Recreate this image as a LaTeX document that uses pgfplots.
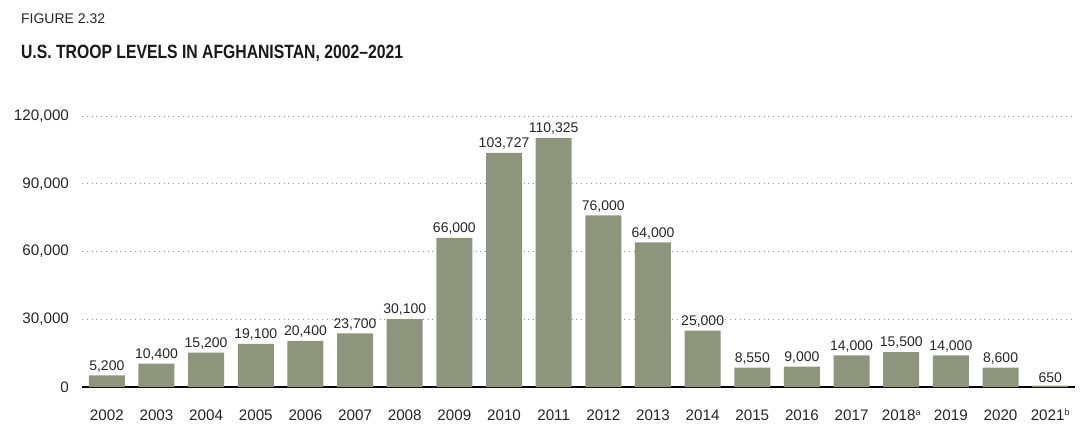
\documentclass[border=0pt]{standalone}
\usepackage{fontspec}
\setmainfont{Liberation Sans}
\newfontfamily\titlefont[FakeStretch=0.82]{Liberation Sans}
\usepackage{pgfplots}
\pgfplotsset{compat=1.18}
\definecolor{barcol}{RGB}{141,150,124}
\definecolor{gridcol}{RGB}{140,140,140}

\begin{document}
\begin{tikzpicture}
\path[use as bounding box] (-41pt,-24.5pt) rectangle (499pt,193.5pt);
\begin{axis}[
  at={(0,0)}, anchor=south west,
  scale only axis,
  width=496.5pt, height=135.5pt,
  ybar, bar width=18pt,
  xmin=-0.5, xmax=19.5,
  ymin=0, ymax=120000,
  xtick=data,
  xticklabels={2002,2003,2004,2005,2006,2007,2008,2009,2010,2011,2012,2013,2014,2015,2016,2017,2018{\fontsize{4.5}{5}\selectfont\raisebox{2.6pt}{a}},2019,2020,2021{\fontsize{4.5}{5}\selectfont\raisebox{2.6pt}{b}}},
  ytick={0,30000,60000,90000,120000},
  scaled y ticks=false,
  /pgf/number format/.cd, fixed, precision=0, 1000 sep={,}, assume math mode=true,
  /pgfplots/.cd,
  axis lines*=left,
  y axis line style={draw=none},
  x axis line style={black, line width=1.1pt, -},
  xtick style={draw=none},
  ytick style={draw=none},
  ymajorgrids,
  major grid style={gridcol, dotted, line width=0.5pt},
  tick label style={font=\fontsize{7.6}{9}\selectfont, text=black!85},
  xticklabel style={text height=6pt, text depth=0pt, yshift=-3pt},
  yticklabel style={xshift=-3pt},
  clip=false,
  nodes near coords,
  every node near coord/.append style={font=\fontsize{7}{8}\selectfont, text=black!85, inner sep=1.5pt},
]
\addplot[fill=barcol, draw=none] coordinates {
(0,5200) (1,10400) (2,15200) (3,19100) (4,20400) (5,23700) (6,30100)
(7,66000) (8,103727) (9,110325) (10,76000) (11,64000) (12,25000)
(13,8550) (14,9000) (15,14000) (16,15500) (17,14000) (18,8600) (19,650)};
\end{axis}
\node[anchor=base west, font=\fontsize{7}{8}\selectfont, text=black!85] at (-34pt,182pt) {FIGURE 2.32};
\node[anchor=base west, font=\titlefont\bfseries\fontsize{9.6}{11}\selectfont, text=black!90] at (-34pt,164.5pt) {U.S. TROOP LEVELS IN AFGHANISTAN, 2002–2021};
\end{tikzpicture}
\end{document}
